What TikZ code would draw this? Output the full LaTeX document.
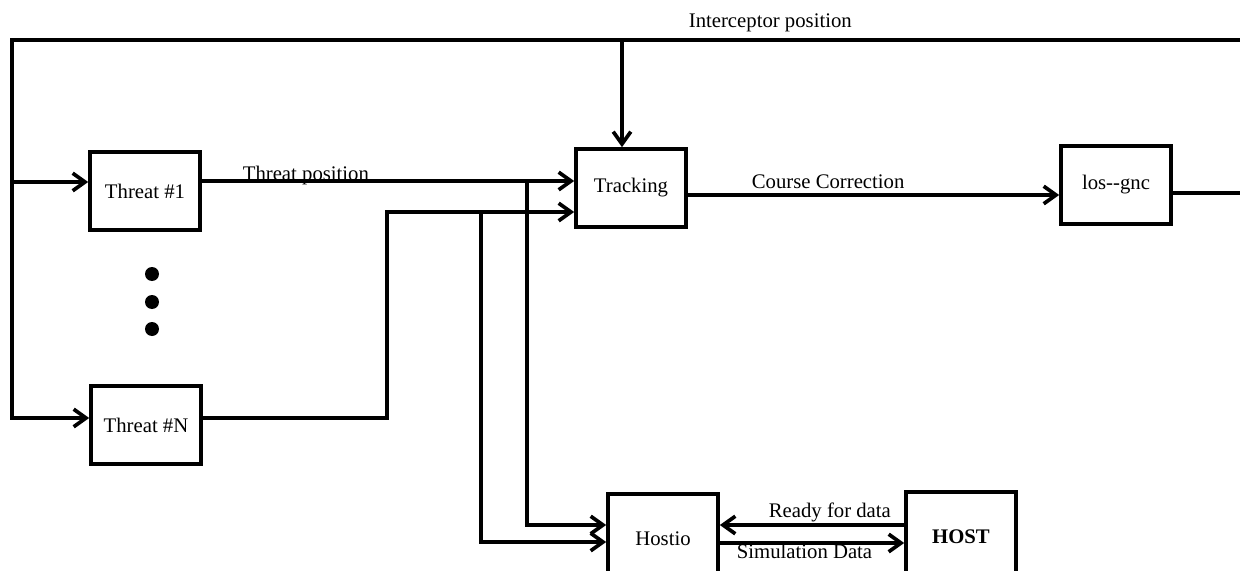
\documentclass[tikz,border=0pt]{standalone}
\usepackage{fontspec}
\setmainfont{Liberation Serif}
\usetikzlibrary{arrows.meta,positioning,calc}
\tikzset{
    >={Straight Barb[length=7pt,width=10pt]},
    every picture/.style={line width=2.1pt},
    block/.style={draw,rectangle,minimum width=2.2cm,minimum height=1.56cm,inner sep=2pt,font=\fontsize{11.8}{13}\selectfont},
    tallblock/.style={block,minimum height=1.8cm},
    sig/.style={font=\fontsize{11.8}{13}\selectfont,inner sep=0pt},
    dot/.style={circle,fill,minimum size=0.28cm,inner sep=0pt}
}

\begin{document}
\begin{tikzpicture}[x=0.02cm,y=-0.02cm]
    \useasboundingbox (0,0) rectangle (1240,571);
    \clip (0,0) rectangle (1240,571);
    \node[block] (threat1) at (145,191) {Threat \#1};
    \node[block] (threatN) at (146,425) {Threat \#N};
    \node[block] (tracking) at (631,188) {Tracking};
    \node[block] (losgnc) at (1116,185) {los-{}-gnc};
    \node[tallblock] (hostio) at (663,539) {Hostio};
    \node[tallblock,font=\fontsize{11.8}{13}\selectfont\bfseries] (host) at (961,537) {HOST};
    \foreach \i/\y in {1/274,2/302,3/329}
        \node[dot] (dot\i) at (152,\y) {};

    \coordinate (loopL) at (12,40);
    \coordinate (loopR) at (1260,40);
    \coordinate (t1in) at ($(threat1.west)+(0,-9)$);
    \coordinate (tnin) at ($(threatN.west)+(0,-7)$);
    \coordinate (trkA) at ($(tracking.west)+(0,-7)$);
    \coordinate (trkB) at ($(tracking.west)+(0,24)$);
    \coordinate (trkTop) at ($(tracking.north)+(-9,0)$);
    \coordinate (tapA) at ($(trkA)+(-47,0)$);
    \coordinate (tapB) at ($(trkB)+(-93,0)$);
    \coordinate (hioA) at ($(hostio.west)+(0,-14)$);
    \coordinate (hioB) at ($(hostio.west)+(0,3)$);
    \coordinate (ccout) at ($(tracking.east)+(0,7)$);
    \coordinate (rdy) at ($(host.west)+(0,-12)$);
    \coordinate (sim) at ($(hostio.east)+(0,4)$);

    \draw[->] ($(losgnc.east)+(0,8)$) -| (loopR) -- (loopL) |- (tnin);
    \draw[->] (loopL |- t1in) -- (t1in);
    \draw[->] (trkTop |- loopL) -- (trkTop);
    \draw[->] (threat1.east |- trkA) -- (trkA);
    \draw[->] (threatN.east |- tnin) -| ($(trkB)+(-187,0)$) -- (trkB);
    \draw[->] (tapA) |- (hioA);
    \draw[->] (tapB) |- (hioB);
    \draw[->] (ccout) -- (ccout -| losgnc.west);
    \draw[->] (rdy) -- (rdy -| hostio.east);
    \draw[->] (sim) -- (sim -| host.west);

    \node[sig,anchor=base west] (lblicp) at (687,28) {Interceptor position};
    \node[sig,anchor=base west] (lblthr) at (241,180) {Threat position};
    \node[sig,anchor=base west] (lblcc) at (750,188) {Course Correction};
    \node[sig,anchor=base west] (lblrdy) at (767,517) {Ready for data};
    \node[sig,anchor=base west] (lblsim) at (735,558) {Simulation Data};
\end{tikzpicture}
\end{document}
